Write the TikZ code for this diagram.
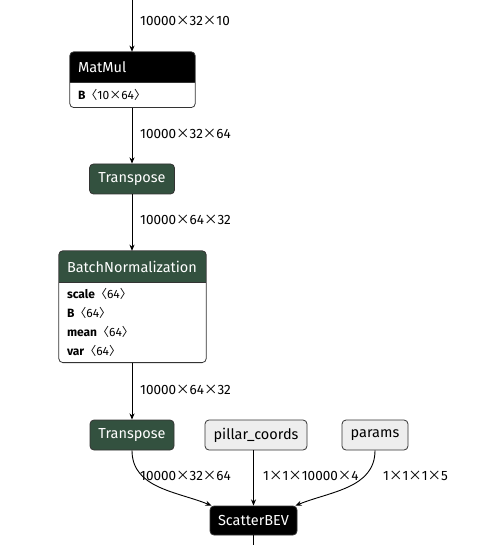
\documentclass[tikz,border=0pt]{standalone}
\usepackage{fontspec}
\setmainfont{Fira Sans}
\newfontfamily\cjk{Noto Sans CJK SC}
\usepackage{tikz}
\usetikzlibrary{arrows.meta,positioning,backgrounds}
\definecolor{greenx}{HTML}{33513F}
\definecolor{grayfill}{HTML}{EEEEEE}
\definecolor{edgex}{HTML}{333333}
\newcommand{\mul}{{\cjk ×}}
\newcommand{\shp}[1]{{\cjk 〈}#1{\cjk 〉}}
\tikzset{
  hd/.style={text=white,inner xsep=8pt,inner ysep=0pt,minimum height=30pt,align=left,font=\fontsize{14.5}{16}\selectfont},
  bd/.style={inner xsep=8pt,inner ysep=0pt,align=left,font=\fontsize{12}{18.7}\selectfont},
  op/.style={draw=edgex,line width=0.8pt,rounded corners=4pt,fill=greenx,text=white,minimum height=30pt,inner xsep=0pt,font=\fontsize{14.5}{16}\selectfont},
  inp/.style={op,fill=grayfill,text=black},
  ar/.style={-{Stealth[length=2.2mm,width=1.8mm]},line width=0.9pt,black},
  lb/.style={anchor=west,inner sep=0pt,font=\fontsize{13.5}{15}\selectfont}
}

\begin{document}
\begin{tikzpicture}[x=1pt,y=1pt]
\useasboundingbox (0,0) rectangle (486,-545);
% main chain
\node[hd,text width=109pt] (mm) at (132.5,-67) {MatMul};
\node[bd,text width=109pt,minimum height=25pt,below=0pt of mm] (mmb) {\textbf{B}\shp{10\mul64}};
\node[op,minimum width=85pt] (tp1) at (132,-179) {Transpose};
\node[hd,text width=131pt,minimum height=31pt] (bn) at (132.5,-266.5) {BatchNormalization};
\node[bd,text width=131pt,minimum height=80pt,below=0pt of bn] (bnb)
  {\textbf{scale}\shp{64}\\\textbf{B}\shp{64}\\\textbf{mean}\shp{64}\\\textbf{var}\shp{64}};
\node[op,minimum width=84pt] (tp2) at (132,-435) {Transpose};
\node[inp,minimum width=102pt] (pc) at (256,-435) {pillar\_coords};
\node[inp,minimum width=66pt] (pa) at (375,-435) {params};
\node[op,fill=black,minimum width=87pt,minimum height=29pt] (sb) at (253.5,-520.5) {ScatterBEV};

% boxes with header
\begin{scope}[on background layer]
\foreach \h/\b/\c in {mm/mmb/black,bn/bnb/greenx}{
  \begin{scope}
    \clip[rounded corners=4pt] (\h.north west) rectangle (\b.south east);
    \fill[\c] (\h.north west) rectangle (\h.south east);
    \fill[white] (\b.north west) rectangle (\b.south east);
  \end{scope}
  \draw[edgex,line width=0.8pt,rounded corners=4pt] (\h.north west) rectangle (\b.south east);
  \draw[edgex,line width=0.8pt] (\b.north west) -- (\b.north east);
}
\end{scope}

% edges
\coordinate (in) at (132,0);
\coordinate (out) at (253.5,-545);
\draw[ar] (in) -- (in |- mm.north);
\draw[ar] (mmb.south -| tp1) -- (tp1.north);
\draw[ar] (tp1.south) -- (tp1.south |- bn.north);
\draw[ar] (bnb.south -| tp2) -- (tp2.north);
\draw[ar] (tp2.south) to[out=-90,in=158] ([xshift=2pt]sb.north west);
\draw[ar] (pc.south -| sb) -- (sb.north);
\draw[ar] (pa.south) to[out=-90,in=22] ([xshift=-2pt]sb.north east);
\draw[line width=0.9pt] (sb.south) -- (out);

% tensor shapes
\node[lb] (l1) at (140,-21) {10000\mul32\mul10};
\node[lb] (l2) at (140,-134) {10000\mul32\mul64};
\node[lb] (l3) at (140,-220) {10000\mul64\mul32};
\node[lb] (l4) at (140,-390) {10000\mul64\mul32};
\node[lb] (l5) at (140,-476) {10000\mul32\mul64};
\node[lb] (l6) at (263,-476) {1\mul1\mul10000\mul4};
\node[lb] (l7) at (383,-476) {1\mul1\mul1\mul5};
\end{tikzpicture}
\end{document}
